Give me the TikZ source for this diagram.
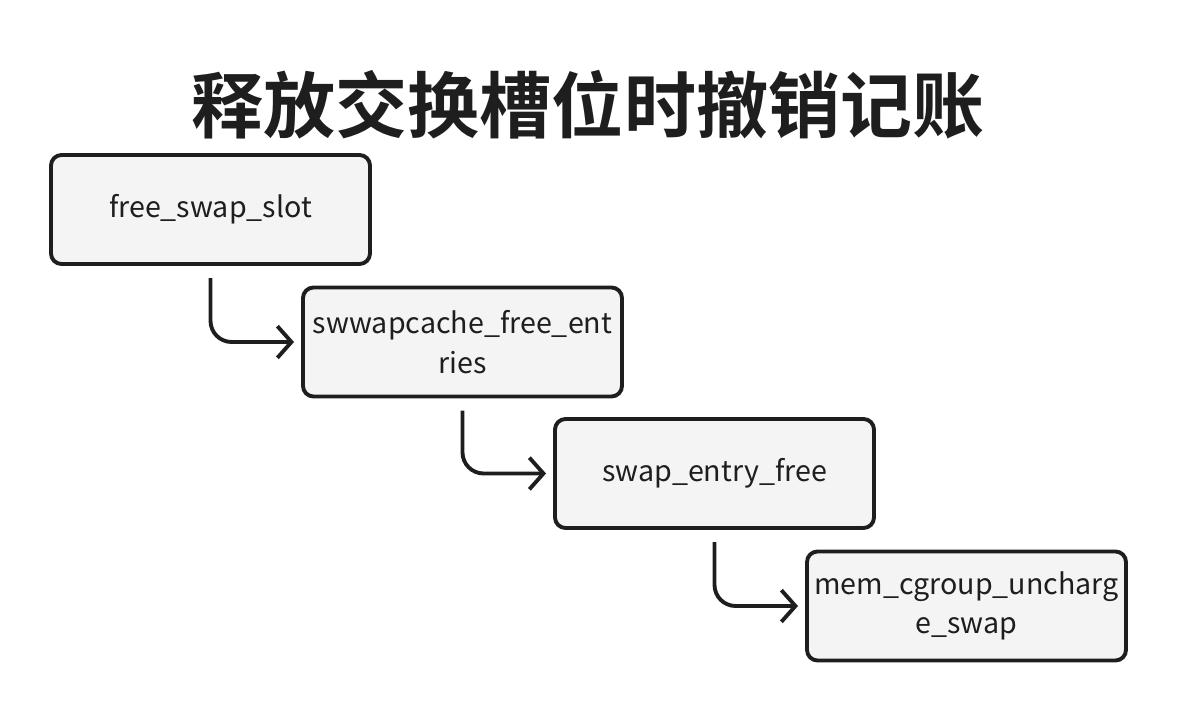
\documentclass[tikz,border=0pt]{standalone}
\usepackage{fontspec}
\setmainfont{Noto Sans CJK SC}
\newfontfamily\titlefont{Noto Sans CJK SC Bold}
\usepackage{tikz}
\usetikzlibrary {arrows.meta,positioning}

\definecolor{boxfill}{HTML}{F4F4F4}
\definecolor{inkdark}{HTML}{1E1E1E}

\begin{document}
\begin{tikzpicture}[on grid,
                    every node/.style={font=\fontsize{16.3}{22.5}\selectfont, text=inkdark},
                    callbox/.style={draw=inkdark, line width=2.2pt, fill=boxfill,
                                    rounded corners=6pt, minimum width=6.38cm,
                                    minimum height=2.18cm, align=center, inner sep=0pt},
                    callarrow/.style={-{Straight Barb[length=8pt,width=18pt]}, draw=inkdark,
                                      line width=2.2pt, rounded corners=12pt,
                                      shorten <=7pt, shorten >=4pt}]
    %\draw[help lines] (0,-14) grid (23,0);
   \useasboundingbox (0,0) rectangle (23.56,-14.24);

   \node[font=\titlefont\fontsize{41}{46}\selectfont] (title) at (11.76,-2.1) {释放交换槽位时撤销记账};

   \node[callbox] (free_swap_slot) at (4.21,-4.19) {free\_swap\_slot};
   \node[callbox] (free_entries) [below right=2.65cm and 5.04cm of free_swap_slot] {swwapcache\_free\_ent\\ries};
   \node[callbox] (entry_free) [below right=2.63cm and 5.04cm of free_entries] {swap\_entry\_free};
   \node[callbox] (uncharge_swap) [below right=2.65cm and 5.04cm of entry_free] {mem\_cgroup\_uncharg\\e\_swap};

   % Define calls
   \draw[callarrow] (free_swap_slot.south) |- (free_entries.west);
   \draw[callarrow] (free_entries.south) |- (entry_free.west);
   \draw[callarrow] (entry_free.south) |- (uncharge_swap.west);

\end{tikzpicture}
\end{document}
